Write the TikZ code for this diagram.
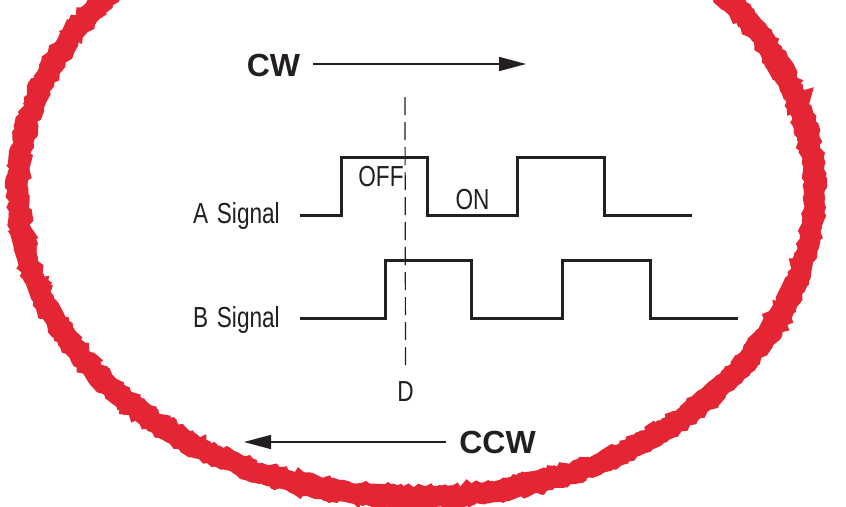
\documentclass[tikz,border=0pt]{standalone}
\usepackage{fontspec}
\setmainfont{Liberation Sans}
\newfontfamily\condfont[FakeStretch=0.78]{Liberation Sans}
\usetikzlibrary{arrows.meta,decorations.pathmorphing}
\definecolor{ringred}{RGB}{228,38,52}
\definecolor{inkblack}{RGB}{35,31,32}
\tikzset{
  siglabel/.style={inner sep=0pt, text=inkblack, font=\condfont\fontsize{29}{31}\selectfont},
  dirlabel/.style={inner sep=0pt, text=inkblack, font=\bfseries\fontsize{32}{34}\selectfont},
  dirarrow/.style={draw=inkblack, line width=1.6pt, -{Triangle[length=27pt,width=14pt]}},
  wave/.style={draw=inkblack, line width=3pt, line join=miter},
  ring/.style={draw=ringred, decorate, decoration={random steps, segment length=4pt, amplitude=2pt}},
}
\begin{document}
\begin{tikzpicture}[x=1pt,y=-1pt]
  \useasboundingbox (0,0) rectangle (846,506);
  \clip (0,0) rectangle (846,506);
  \fill[white] (0,0) rectangle (846,506);
  % --- rough red ring round the whole diagram
  \pgfmathsetseed{7}
  \draw[ring, line width=20pt] (416,190) ellipse [x radius=398, y radius=307];
  \draw[ring, line width=5pt, decoration={amplitude=3pt, segment length=5pt}] (416,190) ellipse [x radius=406, y radius=315];
  \draw[ring, line width=5pt, decoration={amplitude=3pt, segment length=5pt}] (416,190) ellipse [x radius=390, y radius=299];
  % --- rotation directions
  \node[dirlabel, anchor=base] (cw) at (273.5,76) {CW};
  \coordinate (cwtip) at (526,64);
  \draw[dirarrow] ([xshift=13pt]cw.east |- cwtip) -- (cwtip);
  \node[dirlabel, anchor=base] (ccw) at (497.5,453) {CCW};
  \coordinate (ccwtip) at (244,442);
  \draw[dirarrow] ([xshift=-13pt]ccw.west |- ccwtip) -- (ccwtip);
  % --- the two output signals
  \node[siglabel, anchor=base east] (asig) at (280,223) {A\hspace{0.3em}Signal};
  \node[siglabel, anchor=base east] (bsig) at (280,327) {B\hspace{0.3em}Signal};
  \draw[wave] (300,215) -- (341,215) -- (341,157) -- (427,157) -- (427,215)
    -- (517,215) -- (517,157) -- (604,157) -- (604,215) -- (692,215);
  \draw[wave] (300,318) -- (385,318) -- (385,260) -- (471,260) -- (471,318)
    -- (562,318) -- (562,260) -- (650,260) -- (650,318) -- (738,318);
  \node[siglabel, anchor=base] (off) at (381,186) {OFF};
  \node[siglabel, anchor=base] (on) at (472.5,209) {ON};
  % --- the dashed reading line D
  \node[siglabel, anchor=base] (dmark) at (405.5,401) {D};
  \coordinate (dtop) at (405,97);
  \draw[inkblack, line width=1.2pt, dash pattern=on 18pt off 7pt] (dtop) -- ([yshift=14pt]dmark.north);
\end{tikzpicture}
\end{document}
